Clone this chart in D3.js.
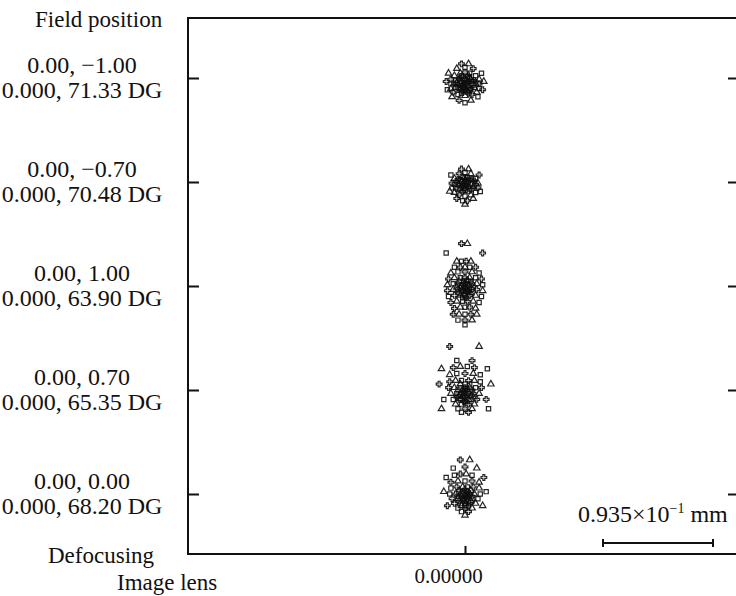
<!DOCTYPE html>
<html>
<head>
<meta charset="utf-8">
<script src="https://cdn.jsdelivr.net/npm/d3@7"></script>
<style>
    body { margin: 0; background: #fff; }
    svg { display: block; font-family: "Liberation Serif", "Times New Roman", serif; }
    .axis path { display: none; }
    .axis line { stroke: #111; stroke-width: 2; }
    .axis text { fill: #111; font-size: 21px; font-family: "Liberation Serif", serif; }
</style>
</head>
<body>
<div id="chart"></div>
<script>
// Data

const fieldLine1 = ['0.00, \u22121.00', '0.00, \u22120.70', '0.00, 1.00', '0.00, 0.70', '0.00, 0.00'];
const fieldLine2 = ['0.000, 71.33 DG', '0.000, 70.48 DG', '0.000, 63.90 DG', '0.000, 65.35 DG', '0.000, 68.20 DG'];
const xTicks = [0];
const scaleBarMm = 0.0935;

// ray hits per field, [dx, dy] in micrometres from the field centre (dy downwards)
const spot1 = [
    [0,5],[-3,3],[3,3],[-3,7],[3,7],[0,1],[0,9],[-6,5],[6,5],[-5,1],[5,1],[-5,9],[5,9],[-2,-1],[2,-1],
    [-2,11],[2,11],[-8,2],[8,2],[-8,8],[8,8],[-9,5],[9,5],[-1,4],[1,6],[-2,6],[2,4],
    [-4,0],[4,0],[-4,10],[4,10],[-7,4],[7,6],[-1,8],[1,2],[-6,8],[6,2],[0,12],[-3,-2],[3,-2],
    [-4,-4],[4,-4],[0,-5],[-9,-2],[9,-2],[-12,1],[12,1],[-12,5],[12,5],[-12,9],[12,9],[-10,12],[10,12],
    [-6,14],[6,14],[0,15],[-3,13],[3,13],
    [-7,-8],[0,-9],[7,-8],[-14,-4],[14,-4],[-16,3],[16,3],[-15,10],[15,10],[-11,16],[11,16],
    [-5,19],[5,19],[0,21],[-3,-12],[3,-12]
];
const spot2 = [
    [0,2],[-3,0],[3,0],[-3,4],[3,4],[0,-1],[0,5],[-5,2],[5,2],[-6,-2],[6,-2],[-6,6],[6,6],[-2,-4],[2,-4],
    [-2,8],[2,8],[-9,2],[9,2],[-1,1],[1,3],[-2,2],[2,2],
    [-4,-2],[4,-2],[-4,6],[4,6],[-7,0],[7,4],[0,7],[-1,-3],[1,-3],[-8,5],[8,-1],
    [-9,-3],[9,-3],[-5,-7],[5,-7],[0,-8],[-11,1],[11,1],[-11,5],[11,5],[-9,9],[9,9],[-5,11],[5,11],[0,12],
    [-3,-11],[3,-11],[-12,-6],[12,-6],[-13,8],[13,8],[-7,14],[7,14],[-2,16],[2,16],[0,19]
];
const spot3 = [
    [-3,-36],[2,-36],[-16,-28],[15,-28],
    [-7,-21],[-3,-21],[1,-21],[5,-21],
    [-9,-16],[-4,-16],[0,-16],[4,-16],[9,-16],[-12,-11],[-6,-12],[0,-12],[6,-12],[12,-11],
    [-14,-6],[-9,-7],[-4,-7],[0,-7],[4,-7],[9,-7],[14,-6],[-15,-1],[-10,-2],[-6,-2],[-2,-2],[2,-2],
    [6,-2],[10,-2],[15,-1],[-15,4],[-10,3],[-6,3],[-2,3],[2,3],[6,3],[10,3],[15,4],[-14,9],[-9,8],
    [-4,8],[0,8],[4,8],[9,8],[14,9],[-12,14],[-7,13],[-2,13],[2,13],[7,13],[12,14],[-9,19],[-4,18],
    [0,18],[4,18],[9,19],
    [-3,0],[3,0],[0,5],[-3,5],[3,5],[0,0],[-1,-4],[1,10],[-4,2],[4,2],[0,2],
    [-5,-4],[5,-4],[-5,6],[5,6],[-2,10],[2,-5],[-7,1],[7,1],[0,-2],[-1,7],[1,4],
    [-10,24],[-5,24],[0,24],[5,24],[10,24],[-6,29],[0,29],[6,29],[0,33]
];
const spot4 = [
    [-13,-37],[12,-37],[-7,-25],[6,-25],[-20,-18],[19,-18],[-22,-5],[22,-5],[-18,8],[18,8],[-20,16],[20,16],
    [-10,-19],[-4,-20],[2,-20],[8,-19],[-13,-13],[-7,-14],[0,-14],[7,-14],[13,-13],
    [-13,-7],[-8,-8],[-3,-8],[3,-8],[8,-8],[13,-7],[-14,-2],[-9,-2],[-4,-2],[0,-2],[4,-2],[9,-2],
    [14,-2],[-12,3],[-7,3],[-3,3],[0,3],[3,3],[7,3],[12,3],[-10,8],[-5,8],[0,8],[5,8],[10,8],
    [-8,12],[-3,12],[3,12],[8,12],[-6,16],[0,16],[6,16],[-3,19],[3,19],
    [-2,0],[2,0],[0,1],[-2,5],[2,5],[0,6],[-5,5],[5,5],[-1,10],[1,10],
    [-6,0],[6,0],[-4,-5],[4,-5],[-7,6],[7,6],[0,-5],[-3,8],[3,8],[-1,3],[1,-1]
];
const spot5 = [
    [-4,-29],[4,-29],[-10,-22],[0,-23],[10,-22],[-16,-14],[16,-14],[-18,-2],[18,-2],[-15,10],[15,10],
    [-9,-16],[-4,-17],[1,-17],[6,-16],[-12,-10],[-6,-11],[0,-11],[6,-11],[12,-10],
    [-12,-5],[-7,-6],[-2,-6],[2,-6],[7,-6],[12,-5],[-13,0],[-8,0],[-4,0],[0,0],[4,0],[8,0],[13,0],
    [-11,4],[-6,4],[-2,4],[2,4],[6,4],[11,4],[-9,8],[-4,8],[0,8],[4,8],[9,8],[-6,12],[0,12],[6,12],
    [-3,15],[3,15],[0,18],
    [-2,-2],[2,-2],[0,2],[-3,2],[3,2],[-1,6],[1,6],[-5,6],[5,6],[0,10],
    [-5,-3],[5,-3],[-6,2],[6,2],[-3,10],[3,10],[0,-4],[-2,0],[2,0],[-1,4],[1,8]
];
const spots = [spot1, spot2, spot3, spot4, spot5];

// Layout

const width = 736;
const height = 596;
const frame = { left: 188, top: 18, right: 742, bottom: 554 };
const rowRange = [78, 494];
const symbols = [d3.symbolCross, d3.symbolTriangle, d3.symbolSquare];

const svg = d3.select('#chart')
    .append('svg')
    .attr('width', width)
    .attr('height', height);

// x is in mm on the image plane, 0 at the chief ray
const xScale = d3.scaleLinear()
    .domain([-0.2355, 0.2355])
    .range([frame.left, frame.right]);
const yScale = d3.scalePoint()
    .domain(d3.range(fieldLine1.length))
    .range(rowRange);
const umToPx = um => xScale(um / 1000) - xScale(0);

// blurred a touch, the original is a soft scan
svg.append('defs')
    .append('filter')
    .attr('id', 'soft')
    .append('feGaussianBlur')
    .attr('stdDeviation', 0.7);

// Frame
svg.append('rect')
    .attr('x', frame.left)
    .attr('y', frame.top)
    .attr('width', frame.right - frame.left)
    .attr('height', frame.bottom - frame.top)
    .attr('fill', 'none')
    .attr('stroke', '#111')
    .attr('stroke-width', 2);

// Axes, ticks point inwards
svg.append('g')
    .classed('axis', true)
    .attr('transform', `translate(${frame.left},0)`)
    .call(d3.axisLeft(yScale).tickSize(-11).tickFormat(''));
svg.append('g')
    .classed('axis', true)
    .attr('transform', `translate(${frame.right - 14},0)`)
    .call(d3.axisRight(yScale).tickSize(-11).tickFormat('').tickSizeOuter(0))
    .selectAll('line')
    .attr('x1', 0)
    .attr('x2', 20);
svg.append('g')
    .classed('axis', true)
    .attr('transform', `translate(0,${frame.bottom})`)
    .call(d3.axisBottom(xScale).tickValues(xTicks).tickSize(-8).tickPadding(14).tickFormat(d3.format('.5f')))
    .selectAll('text')
    .attr('dx', -17);

// Field labels
const labels = svg.append('g')
    .attr('font-size', 24)
    .attr('fill', '#111')
    .attr('text-anchor', 'middle');
labels.selectAll('.line1')
    .data(fieldLine1)
    .enter()
    .append('text')
    .attr('x', 82)
    .attr('y', (d, i) => yScale(i) - 5)
    .text(d => d);
labels.selectAll('.line2')
    .data(fieldLine2)
    .enter()
    .append('text')
    .attr('x', 82)
    .attr('y', (d, i) => yScale(i) + 20)
    .text(d => d);

const titles = svg.append('g')
    .attr('font-size', 23)
    .attr('fill', '#111');
titles.append('text').attr('x', 35).attr('y', 27).text('Field position');
titles.append('text').attr('x', 48).attr('y', 563).text('Defocusing');
titles.append('text').attr('x', 117).attr('y', 590).text('Image lens');

// Spots
const spotGroup = svg.append('g').attr('filter', 'url(#soft)');
spots.forEach((pts, i) => {
    spotGroup.append('g')
        .selectAll('path')
        .data(pts)
        .enter()
        .append('path')
        .attr('transform', d => `translate(${xScale(d[0] / 1000)},${yScale(i) + umToPx(d[1])})`)
        .attr('d', (d, j) => d3.symbol().type(symbols[j % 3]).size(18)())
        .attr('fill', 'none')
        .attr('stroke', '#111')
        .attr('stroke-width', 1.2)
        .attr('stroke-opacity', 0.9);
});

// Scale bar
const barX0 = 603;
const barX1 = barX0 + umToPx(scaleBarMm * 1000);
const barY = 543;
const bar = svg.append('g').attr('stroke', '#111').attr('stroke-width', 2);
bar.append('line').attr('x1', barX0).attr('x2', barX1).attr('y1', barY).attr('y2', barY);
bar.append('line').attr('x1', barX0).attr('x2', barX0).attr('y1', barY - 4).attr('y2', barY + 4);
bar.append('line').attr('x1', barX1).attr('x2', barX1).attr('y1', barY - 4).attr('y2', barY + 4);

const barText = svg.append('text')
    .attr('x', 578)
    .attr('y', 522)
    .attr('font-size', 24)
    .attr('fill', '#111');
barText.append('tspan').text('0.935\u00d710');
barText.append('tspan').attr('font-size', 14).attr('dy', -9).text('\u22121');
barText.append('tspan').attr('dy', 9).text(' mm');
</script>
</body>
</html>
